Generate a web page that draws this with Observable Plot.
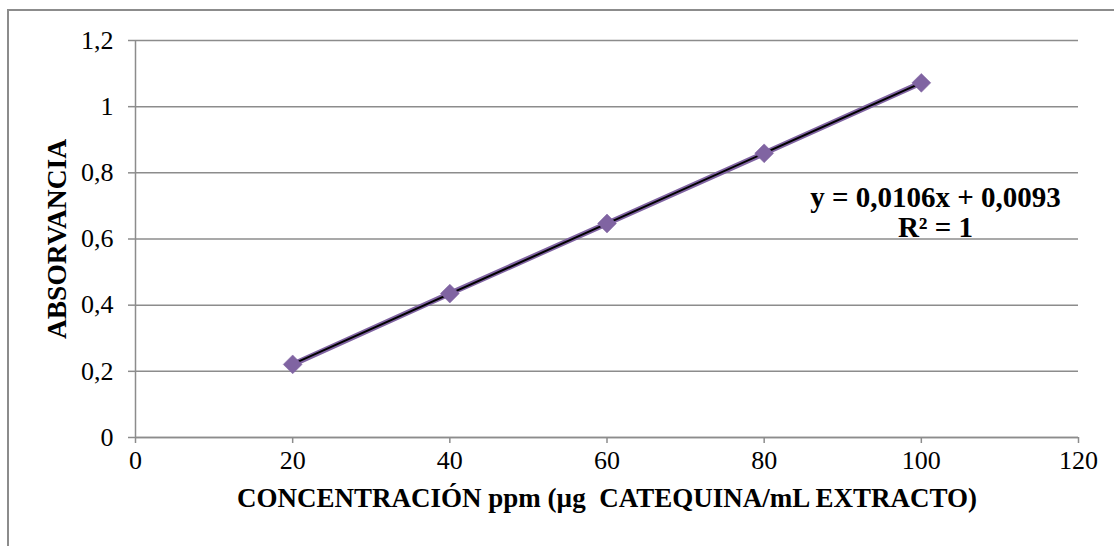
<!DOCTYPE html>
<html>
<head>
<meta charset="utf-8">
<script src="https://cdn.jsdelivr.net/npm/d3@7"></script>
<script src="https://cdn.jsdelivr.net/npm/@observablehq/plot@0.6"></script>
<style>
  html, body { margin: 0; padding: 0; background: #fff; }
  #wrap { position: relative; width: 1114px; height: 546px; overflow: hidden; }
  #frame { position: absolute; left: 7px; top: 9px; width: 1120px; height: 560px;
           border-left: 2px solid #8c8c8c; border-top: 2px solid #8c8c8c; pointer-events: none; }
  svg text { font-family: "Liberation Serif", "Times New Roman", serif !important; }
</style>
</head>
<body>
<div id="wrap"><div id="frame"></div></div>
<script>
// Data
const concentracion = [20, 40, 60, 80, 100];
const absorbancia = [0.221, 0.435, 0.647, 0.859, 1.072];
const xTicks = [0, 20, 40, 60, 80, 100, 120];
const yTicks = [0, 0.2, 0.4, 0.6, 0.8, 1, 1.2];
const yTickLabels = ["0", "0,2", "0,4", "0,6", "0,8", "1", "1,2"];
const xTitle = "CONCENTRACIÓN ppm (µg  CATEQUINA/mL EXTRACTO)";
const yTitle = "ABSORVANCIA";
const ecuacion = ["y = 0,0106x + 0,0093", "R² = 1"];
const ecuacionPos = {x: 101.8, y: 0.68};

const data = concentracion.map((c, i) => ({x: c, y: absorbancia[i]}));
const gray = "#8c8c8c";
const purple = "#8064A2";
const serif = "'Liberation Serif', 'Times New Roman', serif";

const chart = Plot.plot({
  width: 1114,
  height: 546,
  marginLeft: 135,
  marginRight: 36,
  marginTop: 40,
  marginBottom: 109,
  style: {fontFamily: serif, background: "transparent"},
  x: {domain: [0, 120], label: null},
  y: {domain: [0, 1.2], label: null},
  marks: [
    Plot.gridY(yTicks, {stroke: gray, strokeOpacity: 1, strokeWidth: 1.5}),
    Plot.ruleX([0], {y1: 0, y2: 1.2, stroke: gray, strokeWidth: 1.5}),
    Plot.ruleY([0], {stroke: gray, strokeWidth: 1.5}),
    Plot.axisY(yTicks, {tickSize: 7, tickPadding: 15, stroke: gray, strokeWidth: 1.5, fill: "black",
      fontSize: 26, fontFamily: serif, tickFormat: (d) => yTickLabels[yTicks.indexOf(d)]}),
    Plot.axisX(xTicks, {tickSize: 6, tickPadding: 7, stroke: gray, strokeWidth: 1.5, fill: "black",
      fontSize: 26, fontFamily: serif, tickFormat: (d) => String(d)}),
    Plot.line(data, {x: "x", y: "y", stroke: purple, strokeWidth: 5.5}),
    Plot.linearRegressionY(data, {x: "x", y: "y", stroke: "black", strokeWidth: 2, ci: 0}),
    Plot.dot(data, {x: "x", y: "y", symbol: "diamond2", r: 8.5, fill: purple, stroke: purple, strokeWidth: 0.5}),
    Plot.text([ecuacion.join("\n")], {x: ecuacionPos.x, y: ecuacionPos.y, fontSize: 29, fontWeight: "bold",
      fontFamily: serif, lineHeight: 1.04, fill: "black", textAnchor: "middle"}),
    Plot.text([xTitle], {frameAnchor: "bottom", dy: 69, fontSize: 27, fontWeight: "bold", fontFamily: serif,
      fill: "black", textAnchor: "middle"}),
    Plot.text([yTitle], {frameAnchor: "left", dx: -78, rotate: -90, fontSize: 27.5, fontWeight: "bold",
      fontFamily: serif, fill: "black", textAnchor: "middle"})
  ]
});
document.getElementById("wrap").prepend(chart);
</script>
</body>
</html>
